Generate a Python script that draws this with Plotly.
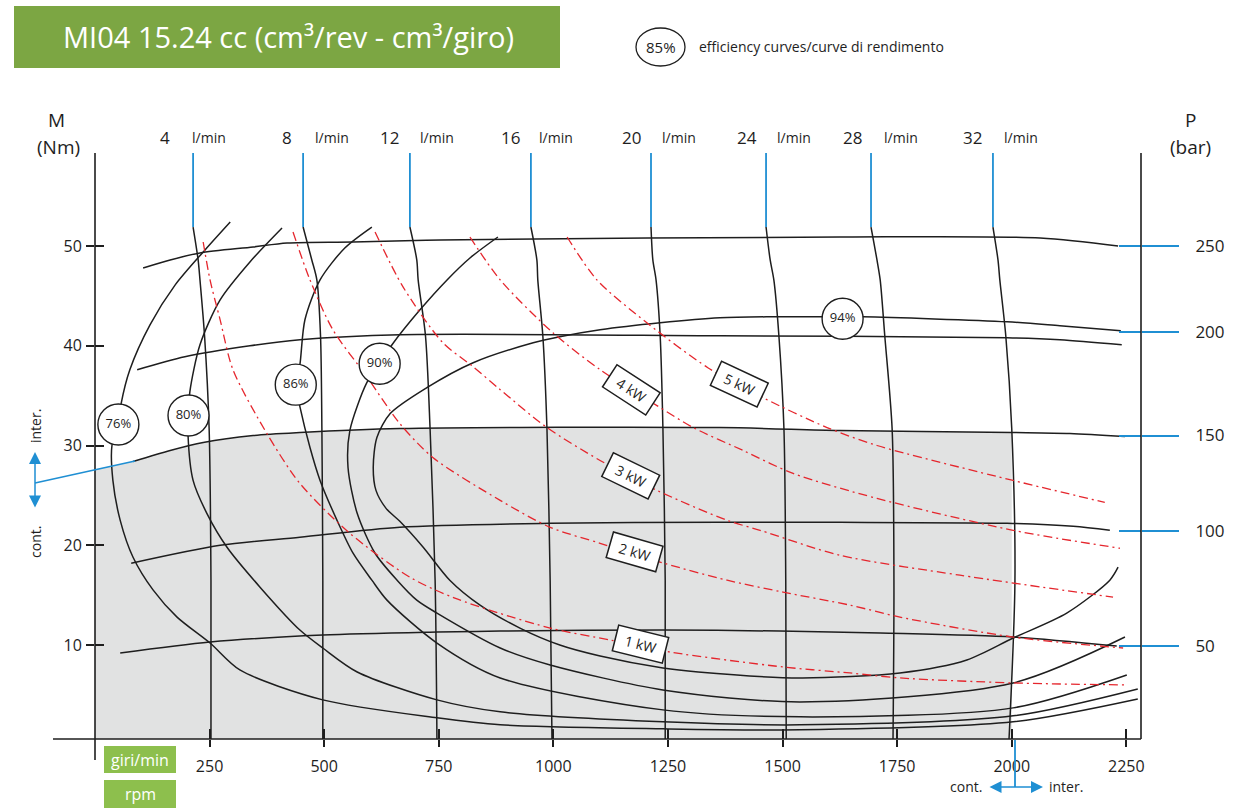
import plotly.graph_objects as go

# ---------------- values (rpm / Nm) ----------------
rpm_ticks = [250, 500, 750, 1000, 1250, 1500, 1750, 2000, 2250]
torque_ticks = [10, 20, 30, 40, 50]
pressure_text = ['50', '100', '150', '200', '250']
pressure_tick_nm = [9.9, 21.4, 31.0, 41.4, 50.0]

# iso-flow lines (l/min), all sampled at the same torque levels
flow_lpm = [4, 8, 12, 16, 20, 24, 28, 32]
flow_nm = [51.9, 48.6, 46.6, 41.0, 31.7, 16.5, 0.5]
flow_rpm = [
    [214, 225, 229, 239, 249, 253, 253],
    [454, 473, 484, 492, 495, 497, 497],
    [687, 702, 705, 721, 731, 742, 746],
    [951, 964, 966, 977, 986, 993, 997],
    [1213, 1217, 1224, 1233, 1239, 1244, 1244],
    [1464, 1473, 1481, 1492, 1503, 1507, 1508],
    [1693, 1706, 1713, 1723, 1739, 1743, 1741],
    [1959, 1970, 1974, 1987, 2000, 2007, 1994],
]

# iso-pressure lines (bar)
bar_levels = [250, 200, 150, 100, 50]
bar_rpm = [
    [105, 164, 229, 345, 419, 563, 753, 1625, 2062, 2232],
    [92, 196, 338, 447, 665, 1363, 1990, 2105, 2240],
    [83, 164, 236, 345, 447, 665, 1363, 1625, 2000, 2127, 2247],
    [79, 273, 447, 665, 993, 1363, 1625, 1990, 2134, 2214],
    [55, 251, 497, 746, 884, 1239, 1494, 1713, 2003, 2229],
]
bar_nm = [
    [47.8, 48.6, 49.3, 49.9, 50.3, 50.4, 50.6, 50.9, 50.8, 50.0],
    [37.6, 38.9, 40.0, 40.6, 41.1, 41.0, 40.8, 40.6, 40.1],
    [28.4, 29.5, 30.3, 31.0, 31.3, 31.7, 31.8, 31.5, 31.3, 31.2, 30.9],
    [18.2, 20.0, 20.8, 21.8, 22.2, 22.3, 22.3, 22.2, 21.9, 21.5],
    [9.2, 10.3, 11.0, 11.3, 11.4, 11.5, 11.4, 11.2, 10.8, 9.9],
]

# efficiency curves (%)
eff_pct = [76, 80, 86, 90, 94]
eff_rpm = [
    [295, 240, 175, 120, 76, 57, 51, 37, 39, 55, 83, 127, 179, 251, 316, 497,
     746, 884, 1239, 1538, 2003, 2275],
    [408, 338, 273, 229, 207, 204, 203, 214, 244, 288, 360, 447, 497, 572,
     746, 884, 1239, 1538, 2003, 2275],
    [604, 545, 491, 458, 447, 438, 447, 469, 491, 528, 563, 604, 637, 746,
     884, 1239, 1538, 2003, 2251],
    [879, 818, 768, 709, 648, 621, 593, 556, 552, 572, 611, 659, 702, 746,
     884, 993, 1239, 1538, 2003, 2247],
    [2238, 2105, 1990, 1675, 1582, 1473, 1363, 1233, 1102, 1014, 956, 825,
     724, 644, 615, 607, 613, 635, 665, 716, 774, 840, 927, 1014, 1102, 1239,
     1316, 1538, 1756, 1902, 2003, 2120, 2214, 2232],
]
eff_nm = [
    [52.4, 49.6, 46.1, 42.1, 37.6, 34.2, 32.1, 30.0, 26.5, 22.5, 18.8, 15.5,
     12.8, 10.2, 7.5, 4.5, 2.7, 2.0, 1.6, 1.5, 2.3, 4.6],
    [51.8, 48.4, 44.6, 40.1, 35.4, 33.0, 31.0, 26.5, 23.2, 19.8, 15.8, 11.5,
     9.7, 7.3, 4.5, 3.3, 2.3, 2.0, 2.9, 5.6],
    [51.9, 49.8, 46.6, 42.6, 38.1, 36.1, 33.9, 29.8, 26.5, 22.5, 19.2, 16.5,
     14.5, 10.2, 6.7, 3.5, 2.8, 3.7, 7.0],
    [50.9, 48.8, 46.6, 43.6, 40.1, 38.2, 36.3, 31.5, 27.8, 23.2, 19.2, 16.5,
     14.5, 13.2, 9.7, 8.0, 5.5, 4.3, 6.2, 10.8],
    [41.5, 42.0, 42.4, 42.9, 42.9, 42.9, 42.8, 42.3, 41.6, 40.9, 40.3, 38.3,
     35.8, 33.2, 30.8, 27.8, 25.5, 23.7, 22.4, 19.8, 16.5, 14.0, 11.7, 10.0,
     8.9, 7.7, 7.3, 6.7, 7.2, 8.5, 10.7, 13.2, 16.5, 17.8],
]
eff_label_rpm = [51, 204, 438, 621, 1631]
eff_label_nm = [32.1, 33.0, 36.1, 38.2, 42.7]

# output power curves (kW)
kw_levels = [1, 2, 3, 4, 5]
kw_rpm = [
    [236, 251, 273, 301, 375, 447, 556, 687, 785, 993, 1124, 1254, 1501, 1647,
     1756, 2003, 2247],
    [432, 469, 519, 593, 665, 737, 884, 993, 1102, 1241, 1379, 1501, 1647,
     1756, 2003, 2243],
    [611, 672, 759, 825, 884, 986, 1102, 1226, 1379, 1451, 1625, 1887, 2221],
    [818, 884, 999, 1102, 1226, 1305, 1414, 1523, 1706, 2003, 2236],
    [1030, 1095, 1204, 1337, 1457, 1597, 1706, 2003, 2203],
]
kw_nm = [
    [50.4, 46.6, 42.6, 37.6, 31.2, 26.2, 21.2, 16.8, 14.7, 11.7, 10.5, 9.3,
     7.8, 7.2, 6.7, 6.2, 6.0],
    [51.4, 46.6, 41.6, 36.9, 32.2, 28.8, 24.5, 21.8, 20.2, 18.2, 16.5, 15.3,
     14.0, 12.8, 10.8, 9.7],
    [51.4, 45.9, 40.3, 37.9, 35.6, 31.8, 28.5, 25.5, 22.5, 21.5, 19.0, 17.0,
     14.8],
    [50.9, 46.6, 41.3, 37.6, 34.0, 31.8, 29.5, 27.2, 24.7, 21.5, 19.7],
    [50.9, 46.6, 42.3, 37.8, 34.8, 31.8, 30.0, 26.5, 24.3],
]

# continuous duty zone: up to 150 bar and 2000 rpm
cont_max_rpm = 2000
cont_axis_nm = 27.6

# ---------------- styling ----------------
INK = '#1e1e1e'
RED = '#e5262d'
BLUE = '#1f8fd3'
GRAY = '#e1e2e2'
GREEN_DARK = '#7ca643'
GREEN_LIGHT = '#8dbf4d'

FW, FH = 1256, 809
L, R, T, B = 95, 115, 153, 70
PW, PH = FW - L - R, FH - T - B
X_RANGE = [0, 2282]
Y_RANGE = [0.58, 59.32]


def fx(px):
    """page pixel -> paper x"""
    return (px - L) / PW


def fy(py):
    """page pixel -> paper y"""
    return (FH - B - py) / PH


def label(px, py, text, size=14, color=INK, anchor='center', angle=0):
    return dict(x=fx(px), y=fy(py), xref='paper', yref='paper', showarrow=False,
                xanchor=anchor, yanchor='middle', text=text, textangle=angle,
                font=dict(size=size, color=color))


fig = go.Figure()

# grey continuous-duty area
shade_x = [0] + [r for r in bar_rpm[2] if r <= cont_max_rpm] + [cont_max_rpm, 0]
shade_y = ([cont_axis_nm] + [m for r, m in zip(bar_rpm[2], bar_nm[2]) if r <= cont_max_rpm]
           + [0, 0])
fig.add_trace(go.Scatter(x=shade_x, y=shade_y, fill='toself', fillcolor=GRAY,
                         mode='lines', line=dict(width=0), hoverinfo='skip'))

black = dict(color=INK, width=1.5, shape='spline', smoothing=0.8)

for r, m in zip(bar_rpm, bar_nm):
    fig.add_trace(go.Scatter(x=r, y=m, mode='lines', line=black, hoverinfo='skip'))

for r in flow_rpm:
    fig.add_trace(go.Scatter(x=r, y=flow_nm, mode='lines', line=black, hoverinfo='skip'))
    fig.add_trace(go.Scatter(x=[r[0], r[0]], y=[flow_nm[0], Y_RANGE[1]], mode='lines',
                             line=dict(color=BLUE, width=1.8), hoverinfo='skip'))

for r, m in zip(eff_rpm, eff_nm):
    fig.add_trace(go.Scatter(x=r, y=m, mode='lines', line=black, hoverinfo='skip'))

for r, m in zip(kw_rpm, kw_nm):
    fig.add_trace(go.Scatter(x=r, y=m, mode='lines', hoverinfo='skip',
                             line=dict(color=RED, width=1.3, shape='spline', smoothing=0.8,
                                       dash='9px,4px,2px,4px')))

fig.add_trace(go.Scatter(
    x=eff_label_rpm, y=eff_label_nm, mode='markers+text',
    text=[f'{p}%' for p in eff_pct], textposition='middle center',
    textfont=dict(size=13, color=INK),
    marker=dict(symbol='circle', size=41, color='white', line=dict(color=INK, width=1.4)),
    hoverinfo='skip'))

# dummy traces so the overlay axes (crossing ticks) get drawn
fig.add_trace(go.Scatter(x=[None], y=[None], xaxis='x2', yaxis='y'))
for ya in ['y2', 'y3', 'y4']:
    fig.add_trace(go.Scatter(x=[None], y=[None], xaxis='x', yaxis=ya))

ax_common = dict(showgrid=False, zeroline=False, showline=False, tickwidth=1.5)

fig.update_layout(
    width=FW, height=FH,
    margin=dict(l=L, r=R, t=T, b=B),
    paper_bgcolor='white', plot_bgcolor='white',
    showlegend=False,
    font=dict(family='Open Sans, sans-serif', color=INK, size=14),
    xaxis=dict(range=X_RANGE, tickvals=rpm_ticks, ticks='outside', ticklen=7,
               tickcolor=INK, tickfont=dict(size=16), ticklabelstandoff=6, **ax_common),
    xaxis2=dict(range=X_RANGE, overlaying='x', anchor='y', side='bottom', tickvals=rpm_ticks,
                ticks='inside', ticklen=10, tickcolor=INK, showticklabels=False, **ax_common),
    yaxis=dict(range=Y_RANGE, tickvals=torque_ticks, ticks='outside', ticklen=8,
               tickcolor=INK, tickfont=dict(size=16), ticklabelstandoff=1, **ax_common),
    yaxis3=dict(range=Y_RANGE, overlaying='y', anchor='x', side='left', tickvals=torque_ticks,
                ticks='inside', ticklen=9, tickcolor=INK, showticklabels=False, **ax_common),
    yaxis2=dict(range=Y_RANGE, overlaying='y', anchor='x', side='right',
                tickvals=pressure_tick_nm, ticktext=pressure_text, ticks='outside',
                ticklen=37, tickcolor=BLUE, tickfont=dict(size=17), ticklabelstandoff=13,
                **ax_common),
    yaxis4=dict(range=Y_RANGE, overlaying='y', anchor='x', side='right',
                tickvals=pressure_tick_nm, ticks='inside', ticklen=22, tickcolor=BLUE,
                showticklabels=False, **ax_common),
)

# axis frame lines (they stick out past the plot area)
axis_line = dict(color=INK, width=1.6)
shapes = [
    dict(type='line', xref='paper', yref='paper', x0=0, x1=0, y0=fy(760), y1=1, line=axis_line),
    dict(type='line', xref='paper', yref='paper', x0=fx(53), x1=1, y0=0, y1=0, line=axis_line),
    dict(type='line', xref='paper', yref='paper', x0=1, x1=1, y0=0, y1=1, line=axis_line),
    # title banner and rpm badges
    dict(type='rect', xref='paper', yref='paper', x0=fx(14), x1=fx(560), y0=fy(68), y1=fy(6),
         fillcolor=GREEN_DARK, line=dict(width=0), layer='below'),
    dict(type='rect', xref='paper', yref='paper', x0=fx(104), x1=fx(176), y0=fy(773), y1=fy(746),
         fillcolor=GREEN_LIGHT, line=dict(width=0)),
    dict(type='rect', xref='paper', yref='paper', x0=fx(104), x1=fx(176), y0=fy(808), y1=fy(780),
         fillcolor=GREEN_LIGHT, line=dict(width=0)),
    # legend circle
    dict(type='circle', xref='paper', yref='paper', x0=fx(636), x1=fx(685), y0=fy(66), y1=fy(28),
         line=dict(color=INK, width=1.3)),
    # cont./inter. markers
    dict(type='line', xref='paper', yref='paper', x0=fx(35), x1=fx(135), y0=fy(483), y1=fy(461),
         line=dict(color=BLUE, width=1.5)),
    dict(type='line', xref='paper', yref='paper', x0=fx(1015), x1=fx(1015), y0=fy(740), y1=fy(787),
         line=dict(color=BLUE, width=1.8)),
]
fig.update_layout(shapes=shapes)

ann = [
    label(288, 37, 'MI04 15.24 cc (cm³/rev - cm³/giro)', size=29, color='white'),
    label(660.5, 47, '85%', size=15),
    label(697, 47, 'efficiency curves/curve di rendimento', size=14, anchor='left'),
    label(57, 120, 'M', size=19),
    label(58, 147, '(Nm)', size=19),
    label(1190, 120, 'P', size=19),
    label(1190, 147, '(bar)', size=19),
    label(140, 760, 'giri/min', size=16, color='white'),
    label(140, 794, 'rpm', size=16, color='white'),
    label(35, 426, 'inter.', angle=-90),
    label(35, 542, 'cont.', angle=-90),
    label(984, 787, 'cont.', anchor='right'),
    label(1047, 787, 'inter.', anchor='left'),
]

# flow labels on top of the blue markers
num_shift = [-21, -9, -9, -9, -8, -7, -7, -9]
unit_shift = [-3, 10, 8, 6, 9, 9, 11, 9]
for q, r, ns, us in zip(flow_lpm, flow_rpm, num_shift, unit_shift):
    ann.append(dict(x=r[0], y=fy(138), xref='x', yref='paper', showarrow=False,
                    xanchor='right', yanchor='middle', xshift=ns, text=str(q),
                    font=dict(size=17)))
    ann.append(dict(x=r[0], y=fy(138), xref='x', yref='paper', showarrow=False,
                    xanchor='left', yanchor='middle', xshift=us, text='l/min',
                    font=dict(size=14)))

# power labels (rotated boxes)
kw_box = [(1189, 10.1, 14), (1178, 19.3, 16), (1169, 26.9, 26), (1171, 35.6, 33), (1405, 36.2, 25)]
for k, (bx, by, ang) in zip(kw_levels, kw_box):
    ann.append(dict(x=bx, y=by, xref='x', yref='y', showarrow=False, text=f'{k} kW',
                    textangle=ang, bgcolor='white', bordercolor=INK, borderwidth=1.5,
                    borderpad=1, width=48, height=23, font=dict(size=14)))

# inter./cont. arrows
ann.append(dict(x=fx(35), y=fy(452), xref='paper', yref='paper', ax=0, ay=57, text='',
                showarrow=True, arrowhead=2, startarrowhead=2, arrowside='end+start',
                arrowsize=1.6, arrowwidth=1.5, arrowcolor=BLUE))
ann.append(dict(x=fx(1043), y=fy(787), xref='paper', yref='paper', ax=-55, ay=0, text='',
                showarrow=True, arrowhead=2, startarrowhead=2, arrowside='end+start',
                arrowsize=1.6, arrowwidth=1.5, arrowcolor=BLUE))
fig.update_layout(annotations=ann)

fig.write_html("out.html", config={'displayModeBar': False},
               post_script="document.body.style.margin='0';document.body.style.overflow='hidden';")
